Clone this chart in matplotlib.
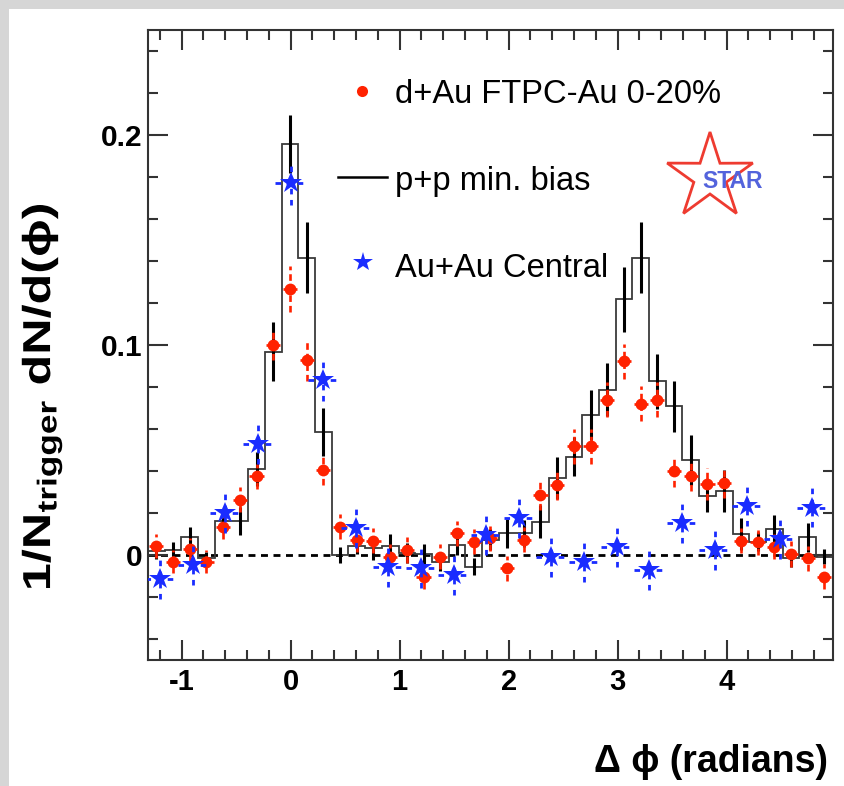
import numpy as np
import matplotlib
matplotlib.use("Agg")
import matplotlib.pyplot as plt
from matplotlib.patches import Polygon, Rectangle, PathPatch
from matplotlib.textpath import TextPath
from matplotlib.font_manager import FontProperties
from matplotlib.transforms import Affine2D
from matplotlib.ticker import MultipleLocator, FuncFormatter

plt.rcParams['font.family'] = ['Liberation Sans', 'DejaVu Sans']
plt.rcParams['axes.unicode_minus'] = False
plt.rcParams['mathtext.fontset'] = 'custom'
plt.rcParams['mathtext.bf'] = 'Liberation Sans:bold'
plt.rcParams['mathtext.rm'] = 'Liberation Sans'

# binning: 2*pi window, fine bins for d+Au / p+p, coarse for Au+Au
PHI_LO, PHI_HI = -5 * np.pi / 12, 19 * np.pi / 12
N_FINE = 41
COARSE_IDX = np.arange(-4, 17)          # Au+Au points at j * 2pi/21

# --- p+p min. bias (histogram + stat. errors) -------------------------------
pp_vals = [0.0019, 0.0024, 0.0084, -0.0015, 0.0162, 0.0162, 0.0409, 0.0968,
           0.1957, 0.1416, 0.0586, 0.0000, 0.0043, 0.0032, 0.0043, 0.0011,
           0.0005, -0.0032, 0.0048, -0.0056, 0.0072, 0.0103, 0.0103, 0.0159,
           0.0366, 0.0469, 0.0668, 0.0788, 0.1217, 0.1416, 0.0827, 0.0708,
           0.0453, 0.0283, 0.0305, 0.0100, 0.0064, 0.0124, -0.0016, 0.0084,
           -0.0008]
pp_err = [0.004, 0.004, 0.005, 0.003, 0.005, 0.0068, 0.008, 0.014,
          0.014, 0.017, 0.0115, 0.004, 0.004, 0.0055, 0.0055, 0.0048,
          0.0048, 0.0045, 0.005, 0.004, 0.005, 0.0068, 0.0064, 0.008,
          0.010, 0.0095, 0.012, 0.0127, 0.0155, 0.017, 0.013, 0.012,
          0.012, 0.0076, 0.010, 0.0076, 0.0045, 0.0068, 0.004, 0.007,
          0.0036]

# --- d+Au FTPC-Au 0-20% ------------------------------------------------------
dau_vals = [0.0043, -0.0032, 0.0027, -0.0032, 0.0135, 0.0263, 0.0374, 0.1002,
            0.1268, 0.0928, 0.0403, 0.0135, 0.0072, 0.0068, -0.0008, 0.0024,
            -0.0103, -0.0008, 0.0103, 0.0064, 0.0080, -0.0064, 0.0072, 0.0286,
            0.0334, 0.0517, 0.0517, 0.0740, 0.0923, 0.0721, 0.0740, 0.0398,
            0.0378, 0.0339, 0.0345, 0.0068, 0.0060, 0.0040, 0.0005, -0.0016,
            -0.0103]
dau_err = [0.0055, 0.0055, 0.0055, 0.0055, 0.006, 0.006, 0.006, 0.0075,
           0.011, 0.010, 0.007, 0.006, 0.006, 0.006, 0.006, 0.006,
           0.006, 0.006, 0.006, 0.006, 0.006, 0.006, 0.006, 0.007,
           0.007, 0.0084, 0.0084, 0.0084, 0.0084, 0.0084, 0.0084, 0.0075,
           0.0075, 0.0075, 0.0075, 0.006, 0.006, 0.006, 0.006, 0.006,
           0.006]
DAU_XERR = 0.065

# --- Au+Au central -----------------------------------------------------------
auau_vals = [-0.0115, -0.0048, 0.0199, 0.0530, 0.1770, 0.0835, 0.0127, -0.0056,
             -0.0064, -0.0095, 0.0095, 0.0175, -0.0011, -0.0032, 0.0040, -0.0072,
             0.0151, 0.0024, 0.0231, 0.0075, 0.0226]
auau_err = [0.0095, 0.0095, 0.0095, 0.0095, 0.0105, 0.010, 0.0095, 0.0095,
            0.0095, 0.0095, 0.0095, 0.0095, 0.0095, 0.0095, 0.0095, 0.0095,
            0.0095, 0.0095, 0.0095, 0.0095, 0.0095]
AUAU_XERR = 0.14

RED = "#ff2200"
BLUE = "#1a2cff"

edges = np.linspace(PHI_LO, PHI_HI, N_FINE + 1)
centers = 0.5 * (edges[1:] + edges[:-1])
auau_x = COARSE_IDX * 2 * np.pi / 21

W, H = 844, 786
fig = plt.figure(figsize=(W / 100, H / 100), dpi=100)
ax = fig.add_axes([148 / W, 1 - 660 / H, (832.7 - 148) / W, (660 - 30) / H])

ax.axhline(0, color="black", lw=2, ls=(0, (2.5, 2)), zorder=1)
ax.stairs(pp_vals, edges, color="#3a3a3a", lw=1.3, zorder=2)
ax.errorbar(centers, pp_vals, yerr=pp_err, fmt="none", ecolor="black",
            elinewidth=2.2, capsize=0, zorder=3)

eb = ax.errorbar(centers, dau_vals, xerr=DAU_XERR, yerr=dau_err, fmt="o",
                 color=RED, ms=8.5, mew=0, elinewidth=1.9, capsize=0, zorder=4)
for lc in eb[2]:
    lc.set_linestyle((0, (2.5, 1.5)))

eb = ax.errorbar(auau_x, auau_vals, xerr=AUAU_XERR, yerr=auau_err, fmt="*",
                 color=BLUE, ms=16.5, mew=0, elinewidth=2, capsize=0, zorder=5)
for lc in eb[2]:
    lc.set_linestyle((0, (2, 2)))

ax.set_xlim(PHI_LO, PHI_HI)
ax.set_ylim(-0.05, 0.25)
ax.xaxis.set_major_locator(MultipleLocator(1))
ax.xaxis.set_minor_locator(MultipleLocator(0.2))
ax.yaxis.set_major_locator(MultipleLocator(0.1))
ax.yaxis.set_minor_locator(MultipleLocator(0.02))
ax.yaxis.set_major_formatter(FuncFormatter(lambda v, p: "0" if abs(v) < 1e-9 else f"{v:g}"))
ax.tick_params(which="both", direction="in", top=True, right=True,
               width=1.5, color="#333333")
ax.tick_params(which="major", length=14.5)
ax.tick_params(which="minor", length=7.2)
ax.tick_params(axis="x", which="major", pad=6, labelsize=21)
ax.tick_params(axis="y", which="major", pad=4, labelsize=21.5)
for lab in ax.get_xticklabels() + ax.get_yticklabels():
    lab.set_fontweight("bold")
for sp in ax.spines.values():
    sp.set_linewidth(1.5)
    sp.set_color("#333333")

# legend (hand-placed, axes fraction)
def ax_xy(px, py):
    return (px - 148) / (832.7 - 148), (660 - py) / (660 - 30)

kw = dict(transform=ax.transAxes, clip_on=False)
ax.plot(*ax_xy(362, 91), "o", color=RED, ms=8, mew=0, **kw)
x0, y0 = ax_xy(338, 177)
x1, _ = ax_xy(387, 177)
ax.plot([x0, x1], [y0, y0], color="black", lw=1.8, **kw)
ax.plot(*ax_xy(363, 262), "*", color=BLUE, ms=15, mew=0, **kw)
labels = ["d+Au FTPC-Au 0-20%", "p+p min. bias", "Au+Au Central"]
for lab, yb in zip(labels, [103.3, 190, 276.7]):
    tx, ty = ax_xy(395, yb)
    ax.text(tx, ty, lab, fontsize=23.5, va="baseline", ha="left", **kw)

# STAR logo
cx, cy, r_out, r_in = 710, 177, 45, 17
ang = np.pi / 2 + np.arange(10) * np.pi / 5
rad = np.where(np.arange(10) % 2 == 0, r_out, r_in)
pts = np.column_stack([(cx + rad * np.cos(ang)) / W, 1 - (cy - rad * np.sin(ang)) / H])
fig.add_artist(Polygon(pts, closed=True, fill=False, edgecolor="#ee3b30", lw=2,
                       transform=fig.transFigure))
fig.text(702 / W, 1 - 181 / H, "STAR", color="#5363dc", fontsize=16.5,
         fontweight="bold", ha="left", va="center")

# axis titles
fig.text(828 / W, 1 - 762 / H, "Δ ϕ (radians)", fontsize=27, fontweight="bold",
         ha="right", va="center")

# y title: drawn as a path so it can be stretched along its length like the original
ylab = TextPath((0, 0), r"1/N$_{\mathbf{trigger}}$ dN/d(ϕ)",
                prop=FontProperties(family="Liberation Sans", weight="bold"), size=39)
ext = ylab.get_extents()
ytr = (Affine2D().translate(-(ext.x0 + ext.x1) / 2, -(ext.y0 + ext.y1) / 2)
       .scale(383 / ext.width, 1.0).rotate_deg(90).translate(42, H - 396.5))
fig.add_artist(PathPatch(ylab, transform=ytr, facecolor="black", lw=0))

# grey frame of the original screenshot
fig.add_artist(Rectangle((0, 1 - 9 / H), 1, 9 / H, transform=fig.transFigure,
                         color="#d6d6d6", lw=0))
fig.add_artist(Rectangle((0, 0), 8.5 / W, 1, transform=fig.transFigure,
                         color="#d6d6d6", lw=0))

fig.savefig("out.png", dpi=100)
